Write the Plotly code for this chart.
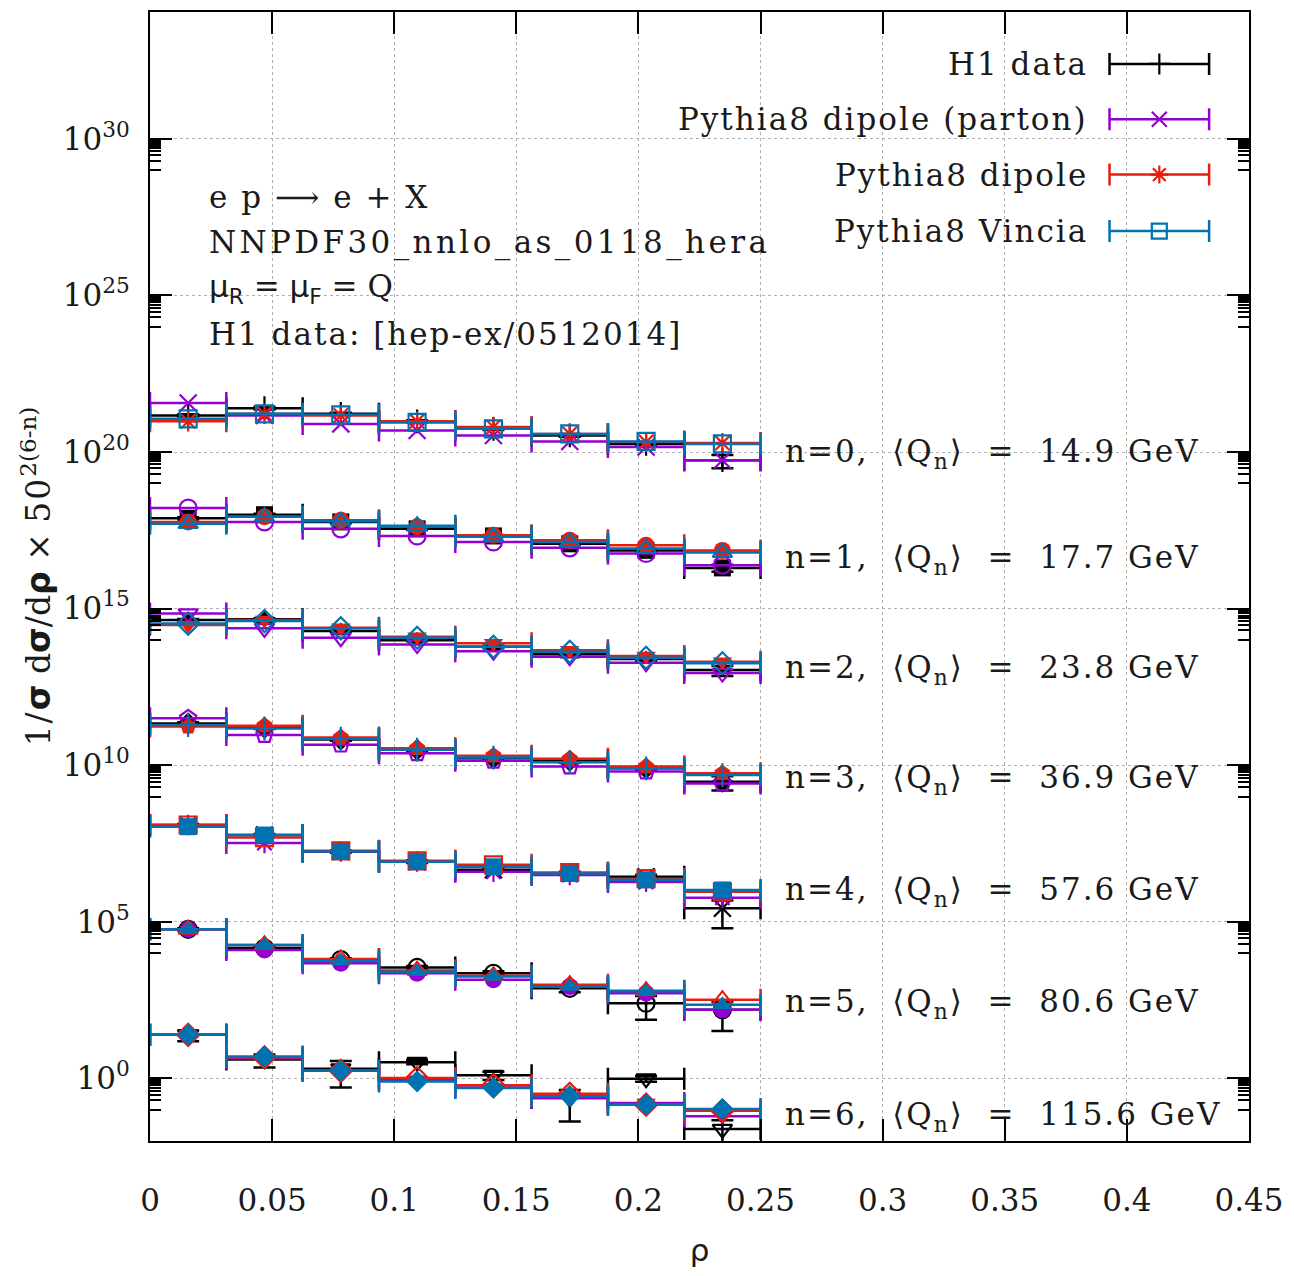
import plotly.graph_objects as go

# ---------------- data ----------------
rho_edges = [0.0, 0.03125, 0.0625, 0.09375, 0.125, 0.15625, 0.1875, 0.21875, 0.25]
n_values = [0, 1, 2, 3, 4, 5, 6]
q_mean_gev = [14.9, 17.7, 23.8, 36.9, 57.6, 80.6, 115.6]
scale_base = 50

# 1/sigma dsigma/drho (unscaled), one list per n
h1_values = [
    [6.05, 10.3, 6.8, 3.9, 2.25, 1.39, 0.745, 0.225],
    [7.8, 10.2, 6.0, 3.6, 2.14, 1.2, 0.74, 0.204],
    [11.0, 11.7, 4.9, 2.5, 1.55, 0.89, 0.63, 0.28],
    [13.8, 10.0, 4.2, 2.0, 1.07, 0.89, 0.51, 0.19],
    [19.7, 9.4, 2.8, 1.33, 0.73, 0.57, 0.44, 0.043],
    [23.0, 5.8, 2.5, 1.39, 0.91, 0.30, 0.10, 0.062],
    [24.5, 4.0, 2.04, 3.3, 1.26, 0.234, 0.98, 0.024],
]
h1_rel_err = [
    [0.08, 0.10, 0.08, 0.08, 0.08, 0.10, 0.12, 0.45],
    [0.08, 0.08, 0.08, 0.08, 0.08, 0.10, 0.12, 0.25],
    [0.08, 0.08, 0.08, 0.08, 0.10, 0.12, 0.15, 0.35],
    [0.08, 0.08, 0.08, 0.10, 0.10, 0.12, 0.15, 0.48],
    [0.08, 0.08, 0.08, 0.10, 0.12, 0.12, 0.15, 0.77],
    [0.08, 0.08, 0.10, 0.12, 0.15, 0.25, 0.70, 0.79],
    [0.38, 0.44, 0.75, 0.15, 0.30, 0.82, 0.20, 0.90],
]
parton_values = [
    [15.1, 6.0, 3.24, 2.0, 1.38, 0.89, 0.59, 0.224],
    [16.6, 6.0, 3.6, 2.14, 1.38, 0.89, 0.59, 0.25],
    [17.8, 6.0, 3.0, 1.82, 1.12, 0.74, 0.48, 0.224],
    [20.0, 5.9, 2.9, 1.55, 0.89, 0.58, 0.40, 0.166],
    [19.7, 5.2, 2.8, 1.33, 0.63, 0.50, 0.30, 0.094],
    [23.0, 5.0, 1.9, 0.91, 0.56, 0.34, 0.21, 0.062],
    [24.5, 4.3, 1.74, 0.91, 0.51, 0.234, 0.162, 0.062],
]
dipole_values = [
    [3.9, 6.8, 6.0, 3.9, 2.57, 1.55, 0.85, 0.79],
    [6.0, 8.7, 6.8, 4.2, 2.24, 1.55, 1.07, 0.74],
    [7.6, 11.0, 6.3, 3.24, 2.0, 1.2, 0.79, 0.51],
    [11.0, 11.7, 4.9, 2.24, 1.29, 1.02, 0.58, 0.355],
    [19.7, 7.8, 2.95, 1.41, 1.05, 0.60, 0.38, 0.145],
    [23.0, 7.3, 2.6, 1.12, 0.76, 0.39, 0.25, 0.13],
    [24.5, 4.7, 1.74, 1.02, 0.60, 0.32, 0.145, 0.093],
]
vincia_values = [
    [4.7, 6.8, 6.3, 3.6, 2.25, 1.55, 0.89, 0.74],
    [5.25, 8.7, 6.3, 4.5, 2.0, 1.38, 0.85, 0.63],
    [8.5, 10.2, 6.0, 3.0, 1.55, 1.07, 0.69, 0.46],
    [12.3, 9.5, 4.5, 2.0, 1.12, 0.79, 0.51, 0.31],
    [17.4, 9.4, 2.8, 1.33, 0.91, 0.56, 0.35, 0.166],
    [23.0, 7.3, 2.24, 1.02, 0.71, 0.34, 0.24, 0.09],
    [24.5, 5.0, 1.74, 0.79, 0.49, 0.27, 0.145, 0.105],
]
series_names = ["H1 data", "Pythia8 dipole (parton)", "Pythia8 dipole", "Pythia8 Vincia"]

# ---------------- styling ----------------
colors = ["#000000", "#9400D3", "#E51E10", "#0072B2"]
# gnuplot point type cycle
pt_cycle = ["cross-thin-open", "x-thin-open", "asterisk-open", "square-open", "square",
            "circle-open", "circle", "triangle-up-open", "triangle-up",
            "triangle-down-open", "triangle-down", "diamond-open", "diamond",
            "pentagon-open", "pentagon"]
SERIF = "DejaVu Serif"
SANS = "DejaVu Sans"
FS = 31
TXT = "#1a1a1a"
LW = 2.5

centers = [(a + b) / 2 for a, b in zip(rho_edges[:-1], rho_edges[1:])]
half_w = [(b - a) / 2 for a, b in zip(rho_edges[:-1], rho_edges[1:])]


def spaced(t, ls=2.2):
    return f"<span style=\"letter-spacing:{ls}px\">{t}</span>"


def marker_style(sym, col, size):
    if sym.endswith("-open"):
        return dict(symbol=sym, size=size, color=col, line=dict(color=col, width=2.2))
    return dict(symbol=sym, size=size, color=col, line=dict(color=col, width=0))


fig = go.Figure()

all_series = [h1_values, parton_values, dipole_values, vincia_values]
for n in n_values:
    scale = scale_base ** (2 * (6 - n))
    for g, vals in enumerate(all_series):
        y = [v * scale for v in vals[n]]
        sym = pt_cycle[(4 * n + g) % len(pt_cycle)]
        err_y = dict(visible=False)
        if g == 0:
            err_y = dict(type="data", array=[v * r * scale for v, r in zip(vals[n], h1_rel_err[n])],
                         color=colors[g], thickness=LW, width=11)
        fig.add_trace(go.Scatter(
            x=centers, y=y, mode="markers", showlegend=False,
            marker=marker_style(sym, colors[g], 17),
            error_x=dict(type="data", array=half_w, color=colors[g], thickness=LW, width=11),
            error_y=err_y,
            name=series_names[g],
        ))

# legend samples drawn on an overlay axis (symbol to the right of the text)
leg_rows = [0.954, 0.905, 0.856, 0.806]
for g in range(4):
    fig.add_trace(go.Scatter(
        x=[0.9184], y=[leg_rows[g]], xaxis="x2", yaxis="y2", mode="markers",
        showlegend=False,
        marker=marker_style(pt_cycle[g], colors[g], 15),
        error_x=dict(type="data", array=[0.0453], color=colors[g], thickness=LW, width=11),
    ))
    fig.add_annotation(x=0.855, y=leg_rows[g], xref="x2", yref="y2",
                       text=spaced(series_names[g], 2.0),
                       showarrow=False, xanchor="right", yanchor="middle",
                       font=dict(family=SERIF, size=FS, color=TXT))

# n labels
label_exp = [19.94, 16.56, 13.05, 9.54, 5.96, 2.39, -1.21]
for n in n_values:
    fig.add_annotation(
        x=0.259, y=label_exp[n], xref="x", yref="y", showarrow=False,
        xanchor="left", yanchor="middle",
        text=spaced(f"n={n},  \u27e8Q<sub>n</sub>\u27e9  =  {q_mean_gev[n]} GeV", 2.0),
        font=dict(family=SERIF, size=FS, color=TXT))

# info text
info_lines = [
    spaced("e p \u27f6 e + X", 2.0),
    spaced("NNPDF30_nnlo_as_0118_hera", 3.4),
    f"<span style=\"font-family:'{SANS}'\">\u03bc<sub>R</sub></span> = "
    f"<span style=\"font-family:'{SANS}'\">\u03bc<sub>F</sub></span> = Q",
    spaced("H1 data: [hep-ex/0512014]", 2.0),
]
info_y = [0.836, 0.796, 0.755, 0.715]
for t, yy in zip(info_lines, info_y):
    fig.add_annotation(x=0.0517, y=yy, xref="paper", yref="paper", text=t,
                       showarrow=False, xanchor="left", yanchor="middle",
                       font=dict(family=SERIF, size=FS, color=TXT))

major_exp = [0, 5, 10, 15, 20, 25, 30]
minor_vals = [k * 10.0 ** (m - 1) for m in major_exp for k in range(1, 10)]

fig.update_layout(
    width=1294, height=1276,
    margin=dict(l=150, r=41, t=10, b=135),
    paper_bgcolor="white", plot_bgcolor="white",
    font=dict(family=SERIF, size=FS, color=TXT),
    xaxis=dict(
        range=[0, 0.45], tickmode="array",
        tickvals=[0, 0.05, 0.1, 0.15, 0.2, 0.25, 0.3, 0.35, 0.4, 0.45],
        ticktext=["0", "0.05", "0.1", "0.15", "0.2", "0.25", "0.3", "0.35", "0.4", "0.45"],
        ticks="inside", ticklen=22, tickwidth=1.5, tickcolor="black",
        showline=True, linecolor="black", linewidth=2, mirror="ticks",
        showgrid=True, gridcolor="#b0b0b0", griddash="dot", gridwidth=1.2,
        zeroline=False, ticklabelstandoff=31,
        title=dict(text=f"<span style=\"font-family:'{SANS}'\">\u03c1</span>",
                   font=dict(size=FS), standoff=22),
    ),
    yaxis=dict(
        type="log", range=[-2, 34.05], tickmode="array",
        tickvals=[10.0 ** e for e in major_exp],
        ticktext=[f"10<sup>{e}</sup>" for e in major_exp],
        ticks="inside", ticklen=22, tickwidth=1.5, tickcolor="black",
        minor=dict(tickmode="array", tickvals=minor_vals, ticks="inside",
                   ticklen=11, tickwidth=1.5, tickcolor="black", showgrid=False),
        showline=True, linecolor="black", linewidth=2, mirror="ticks",
        showgrid=True, gridcolor="#b0b0b0", griddash="dot", gridwidth=1.2,
        zeroline=False, ticklabelstandoff=12,
        title=dict(text="<span style=\"letter-spacing:2px\">1/</span>"
                        "<span style=\"font-family:'DejaVu Sans'\"><b>\u03c3</b></span> d"
                        "<span style=\"font-family:'DejaVu Sans'\"><b>\u03c3</b></span>/d"
                        "<span style=\"font-family:'DejaVu Sans'\"><b>\u03c1</b></span> \u00d7 "
                        "<span style=\"letter-spacing:2px\">50</span><sup>2(6-n)</sup>",
                   font=dict(size=33), standoff=2),
    ),
    xaxis2=dict(overlaying="x", range=[0, 1], visible=False, fixedrange=True),
    yaxis2=dict(overlaying="y", range=[0, 1], visible=False, fixedrange=True),
    showlegend=False,
)

fig.write_html("out.html")
